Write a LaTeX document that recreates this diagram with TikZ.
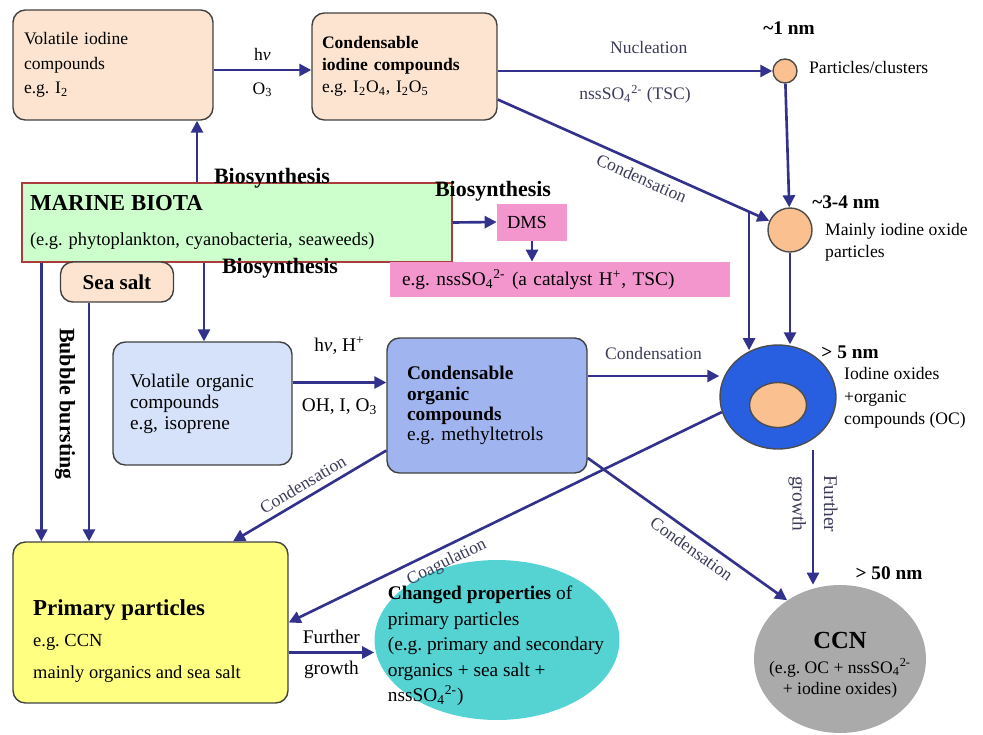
\documentclass[tikz,border=0pt]{standalone}
\usepackage{fontspec}
\setmainfont{Liberation Serif}
\usepackage{tikz}
\usetikzlibrary{arrows.meta, shapes.geometric, calc}

\definecolor{peach}{RGB}{252,228,208}
\definecolor{dotc}{RGB}{250,192,143}
\definecolor{biotac}{RGB}{204,255,204}
\definecolor{biotaedge}{RGB}{170,60,60}
\definecolor{pinkc}{RGB}{242,150,205}
\definecolor{vorgc}{RGB}{214,226,250}
\definecolor{corgc}{RGB}{160,180,240}
\definecolor{bluec}{RGB}{40,95,225}
\definecolor{primc}{RGB}{255,255,130}
\definecolor{turqc}{RGB}{85,210,210}
\definecolor{ccnc}{RGB}{170,170,170}
\definecolor{arrowc}{RGB}{50,50,140}
\definecolor{lblc}{RGB}{60,60,90}

\begin{document}
\begin{tikzpicture}[x=0.02cm, y=-0.02cm,
    pbox/.style={rectangle, rounded corners=7pt, draw=black!75, line width=0.8pt,
                 align=left, inner ysep=0pt},
    pinkbox/.style={rectangle, fill=pinkc, align=left, inner ysep=0pt},
    dot/.style={circle, draw=black!70, line width=0.8pt, fill=dotc, inner sep=0pt},
    arrow/.style={-{Triangle[length=2.4mm, width=2.4mm]}, line width=1.5pt, draw=arrowc},
    lbl/.style={font=\fontsize{10}{12}\selectfont, text=lblc},
    txt/.style={font=\fontsize{10}{12}\selectfont, align=left},
    bigl/.style={font=\fontsize{12.5}{14}\selectfont\bfseries},
    sizelbl/.style={font=\fontsize{11}{13}\selectfont\bfseries}
]
    \useasboundingbox (0,0) rectangle (983,734);

    % Iodine compounds
    \node[pbox, fill=peach, minimum width=4cm, minimum height=2.2cm, text width=3.56cm,
          inner xsep=0.22cm, font=\fontsize{10}{14}\selectfont] (voliod) at (113,65)
          {Volatile iodine\\compounds\\e.g.\ I\textsubscript{2}};
    \node[pbox, fill=peach, minimum width=3.7cm, minimum height=2.14cm, text width=3.3cm,
          inner xsep=0.2cm, font=\fontsize{10}{12.5}\selectfont] (condiod) at (404.5,66.5)
          {\textbf{Condensable}\\\textbf{iodine compounds}\\e.g.\ I\textsubscript{2}O\textsubscript{4}, I\textsubscript{2}O\textsubscript{5}};

    % Particle sizes
    \node[dot, minimum size=0.48cm] (p1) at (785,71) {};
    \node[sizelbl] (nm1) at (789,28) {\textasciitilde1 nm};
    \node[txt, anchor=west] (p1txt) at (803,67) {Particles/clusters};
    \node[dot, minimum size=0.88cm] (p2) at (790,230) {};
    \node[sizelbl] (nm34) at (846,202) {\textasciitilde3-4 nm};
    \node[txt, anchor=west, font=\fontsize{10}{12.5}\selectfont] (p2txt) at (819,242)
          {Mainly iodine oxide\\particles};

    \node[ellipse, draw=black!70, line width=0.8pt, fill=bluec, minimum width=2.32cm,
          minimum height=2.08cm] (bigp) at (778,397) {};
    \node[ellipse, draw=black!70, line width=0.8pt, fill=dotc, minimum width=1.14cm,
          minimum height=0.9cm] (bigcore) at (778,405) {};
    \node[sizelbl] (nm5) at (850,352) {> 5 nm};
    \node[txt, anchor=west, font=\fontsize{10}{12.7}\selectfont] (bigtxt) at (838,398)
          {Iodine oxides\\+organic\\compounds (OC)};

    \node[ellipse, fill=ccnc, minimum width=3.44cm, minimum height=2.96cm] (ccn) at (840,659) {};
    \node[align=center, font=\fontsize{10}{12}\selectfont] (ccntxt) at (840,665)
          {{\fontsize{14}{16}\selectfont\bfseries CCN}\\[2pt](e.g.\ OC + nssSO\textsubscript{4}\textsuperscript{2-}\\+ iodine oxides)};
    \node[sizelbl] (nm50) at (889,573) {> 50 nm};

    % Marine biota
    \node[rectangle, draw=biotaedge, fill=biotac, line width=0.8pt, minimum width=8.6cm,
          minimum height=1.58cm, text width=8.28cm, inner xsep=0.16cm, align=left] (biota) at (237,222.5)
          {{\fontsize{13}{15}\selectfont\bfseries MARINE BIOTA}\\[8pt]{\fontsize{10.5}{12}\selectfont (e.g.\ phytoplankton, cyanobacteria, seaweeds)}};
    \node[bigl] (bios1) at (272,178) {Biosynthesis};
    \node[bigl] (bios2) at (280,268) {Biosynthesis};
    \node[bigl] (bios3) at (493,191) {Biosynthesis};

    % DMS
    \node[pinkbox, minimum width=1.4cm, minimum height=0.74cm, text width=1.0cm,
          inner xsep=0.2cm, font=\fontsize{10.5}{12}\selectfont] (dms) at (532,222) {DMS};
    \node[pinkbox, minimum width=6.8cm, minimum height=0.7cm, text width=6.32cm,
          inner xsep=0.24cm, font=\fontsize{11}{12}\selectfont] (nss) at (560,279.5)
          {e.g.\ nssSO\textsubscript{4}\textsuperscript{2-} (a catalyst H\textsuperscript{+}, TSC)};

    % Sea salt
    \node[pbox, fill=peach, minimum width=2.26cm, minimum height=0.8cm, align=center,
          font=\fontsize{12}{14}\selectfont\bfseries] (seasalt) at (117,282) {Sea salt};
    \node[bigl, rotate=-90] (bubble) at (65,404) {Bubble bursting};

    % Organic compounds
    \node[pbox, fill=vorgc, minimum width=3.58cm, minimum height=2.46cm, text width=2.9cm,
          inner xsep=0.34cm, font=\fontsize{11}{12}\selectfont] (vorg) at (202.5,403.5)
          {Volatile organic\\compounds\\e.g, isoprene};
    \node[pbox, fill=corgc, minimum width=4cm, minimum height=2.7cm, text width=3.2cm,
          inner xsep=0.4cm, font=\fontsize{11}{11.5}\selectfont] (corg) at (487,405.5)
          {\textbf{Condensable}\\\textbf{organic}\\\textbf{compounds}\\e.g.\ methyltetrols};

    % Primary particles
    \node[pbox, fill=primc, minimum width=5.5cm, minimum height=3.22cm] (primary) at (150.5,622.5) {};
    \node[anchor=west, align=left, font=\fontsize{10.5}{12}\selectfont] (primtxt) at (27,641)
          {{\fontsize{13}{15}\selectfont\bfseries Primary particles}\\[6pt]e.g.\ CCN\\[6pt]mainly organics and sea salt};

    \node[ellipse, fill=turqc, minimum width=4.9cm, minimum height=3.2cm] (changed) at (497,640) {};
    \node[align=left, font=\fontsize{11}{14.5}\selectfont] (chtxt) at (496,646)
          {{\bfseries Changed properties} of\\primary particles\\(e.g.\ primary and secondary\\organics + sea salt +\\nssSO\textsubscript{4}\textsuperscript{2-})};

    % Arrows
    \draw[arrow] ([yshift=-0.1cm]voliod.east) -- ([yshift=-0.1cm]voliod.east -| condiod.west)
        node[txt, midway, above=1pt] {h\textit{ν}}
        node[txt, midway, below=3pt] {O\textsubscript{3}};
    \draw[arrow] (condiod.east |- p1) -- (p1)
        node[lbl, pos=0.55, above=6pt] {Nucleation}
        node[lbl, pos=0.5, below=4pt] {nssSO\textsubscript{4}\textsuperscript{2-} (TSC)};
    \coordinate (cstart) at ([yshift=-0.66cm]condiod.east);
    \coordinate (cbranch) at ($(cstart)!0.86!(p2)$);
    \draw[arrow] (cstart) -- (p2) node[lbl, pos=0.55, sloped, below] {Condensation};
    \draw[arrow] (cbranch) -- (cbranch |- bigp.120);
    \draw[arrow] (p1) -- (p2);
    \draw[arrow] (p2.south) -- (p2.south |- bigp.north);

    \draw[arrow] ([xshift=-0.8cm]biota.north) -- ([xshift=-0.8cm]biota.north |- voliod.south);
    \draw[arrow] (biota.east) -- (dms.west);
    \draw[arrow] (dms.south) -- (dms.south |- nss.north);
    \draw[arrow] ([xshift=-0.66cm]biota.south) -- ([xshift=-0.66cm]biota.south |- vorg.north);
    \draw[arrow] ([xshift=0.4cm]biota.south west) -- ([xshift=0.4cm]biota.south west |- primary.north);
    \draw[arrow] ([xshift=-0.56cm]seasalt.south) -- ([xshift=-0.56cm]seasalt.south |- primary.north);

    \draw[arrow] ([yshift=0.42cm]vorg.east) -- ([yshift=0.42cm]vorg.east -| corg.west)
        node[txt, font=\fontsize{11}{12}\selectfont, midway, above=12pt] {h\textit{ν}, H\textsuperscript{+}}
        node[txt, font=\fontsize{11}{12}\selectfont, midway, below=5pt] {OH, I, O\textsubscript{3}};
    \draw[arrow] ([yshift=0.59cm]corg.east) -- ([yshift=0.59cm]corg.east -| bigp.west)
        node[lbl, midway, above=5pt] {Condensation};
    \draw[arrow] ([yshift=-0.9cm]corg.west) -- ([xshift=1.65cm]primary.north)
        node[lbl, midway, sloped, above] {Condensation};
    \draw[arrow] (bigp.195) -- (primary.east)
        node[lbl, pos=0.65, sloped, below] {Coagulation};
    \draw[arrow] ([yshift=-1.05cm]corg.east) -- (ccn.132)
        node[lbl, pos=0.56, sloped, below] {Condensation};
    \draw[arrow] ([xshift=0.7cm]bigp.south) -- ([xshift=0.7cm]bigp.south |- ccn.north)
        node[lbl, font=\fontsize{11}{18}\selectfont, pos=0.4, rotate=-90, align=center] {Further\\growth};
    \draw[arrow] ([yshift=-0.6cm]primary.east) -- ([yshift=-0.6cm]primary.east -| changed.west)
        node[txt, font=\fontsize{11}{12}\selectfont, midway, above=1pt] {Further}
        node[txt, font=\fontsize{11}{12}\selectfont, midway, below=1pt] {growth};

\end{tikzpicture}
\end{document}
